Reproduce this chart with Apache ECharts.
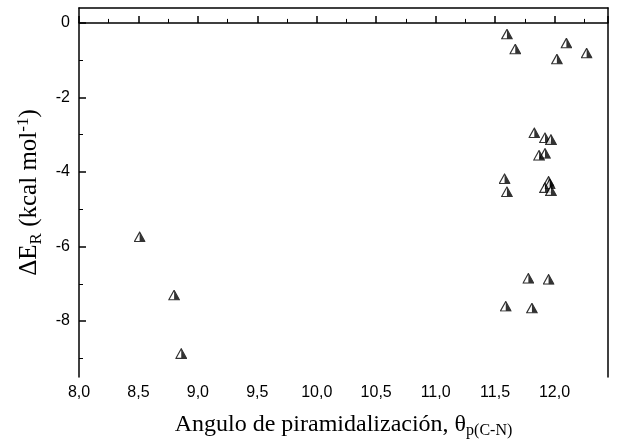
<!DOCTYPE html>
<html>
<head>
<meta charset="utf-8">
<script src="https://cdn.jsdelivr.net/npm/echarts@6/dist/echarts.min.js"></script>
<style>
  html, body { margin: 0; padding: 0; background: #fff; }
  #chart { width: 620px; height: 445px; }
</style>
</head>
<body>
<div id="chart"></div>
<script>
// 横轴：锥化角 θp(C-N)
const xValues = [8.51, 8.80, 8.86,
  11.60, 11.67, 12.10, 12.02, 12.27,
  11.83, 11.92, 11.97, 11.92, 11.87,
  11.58, 11.60, 11.95, 11.96, 11.92, 11.97,
  11.78, 11.95, 11.59, 11.81];
// 纵轴：ΔE_R (kcal/mol)
const yValues = [-5.74, -7.3, -8.87,
  -0.3, -0.7, -0.54, -0.97, -0.81,
  -2.95, -3.08, -3.13, -3.5, -3.55,
  -4.18, -4.53, -4.25, -4.32, -4.42, -4.5,
  -6.85, -6.88, -7.6, -7.65];
const yMajorTicks = [0, -2, -4, -6, -8];
const yMinorTicks = [-1, -3, -5, -7, -9];

// 半黑三角形标记
const triSvg = '<svg xmlns="http://www.w3.org/2000/svg" width="12" height="11" viewBox="0 0 12 11">' +
  '<polygon points="6,0.8 11.3,10.3 0.7,10.3" fill="#fff" stroke="#000" stroke-width="1.2"/>' +
  '<polygon points="6,0.8 11.3,10.3 6,10.3" fill="#000"/></svg>';
const triSymbol = 'image://data:image/svg+xml;charset=utf-8,' + encodeURIComponent(triSvg);

const chart = echarts.init(document.getElementById('chart'));

const tickFont = { fontFamily: 'Liberation Sans', fontSize: 16, color: '#000' };
const serif = 'Liberation Serif';

const options = {
  animation: false,
  grid: { left: 79, right: 12, top: 8, bottom: 68 },
  xAxis: [
    {
      type: 'value',
      min: 8,
      max: 12.45,
      interval: 0.5,
      name: 'Angulo de piramidalización, θ{sub|p(C-N)}',
      nameLocation: 'middle',
      nameGap: 33,
      nameTextStyle: {
        fontFamily: serif, fontSize: 24, color: '#000',
        rich: { sub: { fontFamily: serif, fontSize: 16, color: '#000', verticalAlign: 'bottom', padding: [13, 0, 0, 0] } }
      },
      axisLine: { show: true, lineStyle: { color: '#000', width: 1.5 } },
      axisTick: { show: true, inside: true, length: 7, lineStyle: { color: '#000', width: 1.5 } },
      minorTick: { show: true, splitNumber: 2, length: 4, lineStyle: { color: '#000', width: 1 } },
      splitLine: { show: false },
      axisLabel: {
        ...tickFont,
        margin: 8,
        showMaxLabel: false,
        formatter: v => v.toFixed(1).replace('.', ',')
      }
    },
    {
      type: 'value',
      position: 'top',
      min: 8,
      max: 12.45,
      axisLine: { show: true, onZero: false, lineStyle: { color: '#000', width: 1.5 } },
      axisTick: { show: false },
      axisLabel: { show: false },
      splitLine: { show: false }
    }
  ],
  yAxis: [
    {
      type: 'value',
      min: -9.5,
      max: 0.4,
      name: 'ΔE{sub|R} (kcal mol{sup|-1})',
      nameLocation: 'middle',
      nameRotate: 90,
      nameGap: 34,
      nameTextStyle: {
        fontFamily: serif, fontSize: 25, color: '#000',
        rich: {
          sub: { fontFamily: serif, fontSize: 17, color: '#000', verticalAlign: 'bottom', padding: [13, 0, 0, 0] },
          sup: { fontFamily: serif, fontSize: 17, color: '#000', verticalAlign: 'top', padding: [0, 0, 13, 0] }
        }
      },
      axisLine: { show: true, onZero: false, lineStyle: { color: '#000', width: 1.5 } },
      axisTick: { show: true, inside: true, length: 7, customValues: yMajorTicks, lineStyle: { color: '#000', width: 1.5 } },
      splitLine: { show: false },
      axisLabel: { ...tickFont, margin: 9, customValues: yMajorTicks }
    },
    {
      // 次刻度
      type: 'value',
      position: 'left',
      min: -9.5,
      max: 0.4,
      axisLine: { show: false },
      axisTick: { show: true, inside: true, length: 4, customValues: yMinorTicks, lineStyle: { color: '#000', width: 1 } },
      axisLabel: { show: false },
      splitLine: { show: false }
    },
    {
      type: 'value',
      position: 'right',
      min: -9.5,
      max: 0.4,
      axisLine: { show: true, onZero: false, lineStyle: { color: '#000', width: 1.5 } },
      axisTick: { show: false },
      axisLabel: { show: false },
      splitLine: { show: false }
    }
  ],
  series: [
    {
      type: 'scatter',
      symbol: triSymbol,
      symbolSize: [12, 11],
      data: xValues.map((x, i) => [x, yValues[i]])
    }
  ]
};

chart.setOption(options);
</script>
</body>
</html>
